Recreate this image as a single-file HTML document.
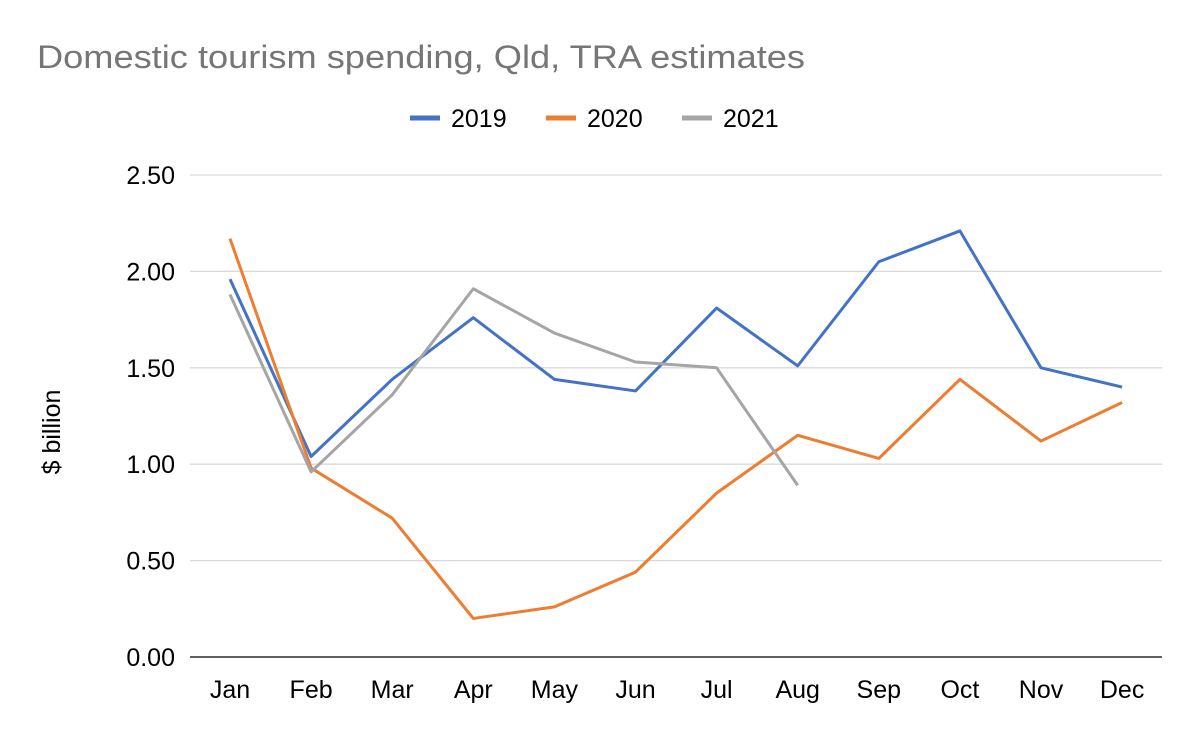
<!DOCTYPE html>
<html><head><meta charset="utf-8"><style>
body{margin:0;background:#fff;font-family:"Liberation Sans",sans-serif;}
</style></head><body>
<svg id="chart" width="1200" height="742" xmlns="http://www.w3.org/2000/svg">
<text x="37" y="68" font-size="32" fill="#767676" textLength="768" lengthAdjust="spacingAndGlyphs">Domestic tourism spending, Qld, TRA estimates</text>
<g id="legend"></g>
<g id="grid"></g><g id="axes"></g><g id="series"></g>
<text transform="translate(60,432) rotate(-90)" text-anchor="middle" font-size="25" fill="#000">$ billion</text>
</svg>
<script>
const months=["Jan","Feb","Mar","Apr","May","Jun","Jul","Aug","Sep","Oct","Nov","Dec"];
const yTicks=[0,0.5,1,1.5,2,2.5];
const seriesNames=["2019","2020","2021"];
const seriesColors=["#4472C4","#ED7D31","#A5A5A5"];
const v2019=[1.96,1.04,1.44,1.76,1.44,1.38,1.81,1.51,2.05,2.21,1.50,1.40];
const v2020=[2.17,0.98,0.72,0.20,0.26,0.44,0.85,1.15,1.03,1.44,1.12,1.32];
const v2021=[1.88,0.96,1.36,1.91,1.68,1.53,1.50,0.89];
const NS="http://www.w3.org/2000/svg";
const x=i=>230+i*81.1;
const y=v=>657-v*192.8;
function mk(t,a,p){const e=document.createElementNS(NS,t);for(const k in a)e.setAttribute(k,a[k]);p.appendChild(e);return e;}
const grid=document.getElementById('grid'),axes=document.getElementById('axes'),ser=document.getElementById('series'),leg=document.getElementById('legend');
yTicks.forEach(t=>{
 if(t>0){const l=mk('line',{x1:190,x2:1162,y1:y(t),y2:y(t),stroke:'#d9d9d9','stroke-width':1.3},grid);
 
 }
 const tx=mk('text',{x:175,y:y(t)+9,'text-anchor':'end','font-size':25,fill:'#000'},axes);tx.textContent=t.toFixed(2);
 
 
});
const ax=mk('line',{x1:190,x2:1162,y1:y(0),y2:y(0),stroke:'#000','stroke-width':1.3},axes);


months.forEach((m,i)=>{const tx=mk('text',{x:x(i),y:698,'text-anchor':'middle','font-size':25,fill:'#000'},axes);tx.textContent=m;
 
 });
[v2019,v2020,v2021].forEach((vals,s)=>{
 const p=mk('polyline',{points:vals.map((v,i)=>x(i)+','+y(v)).join(' '),fill:'none',stroke:seriesColors[s],'stroke-width':3,'stroke-linejoin':'round'},ser);
 
 
 const lx=410+s*136;
 const ll=mk('line',{x1:lx,x2:lx+30,y1:118,y2:118,stroke:seriesColors[s],'stroke-width':5},leg);
 
 
 const lt=mk('text',{x:lx+41,y:127,'font-size':25,fill:'#000'},leg);lt.textContent=seriesNames[s];
 
 
});
</script>
</body></html>
